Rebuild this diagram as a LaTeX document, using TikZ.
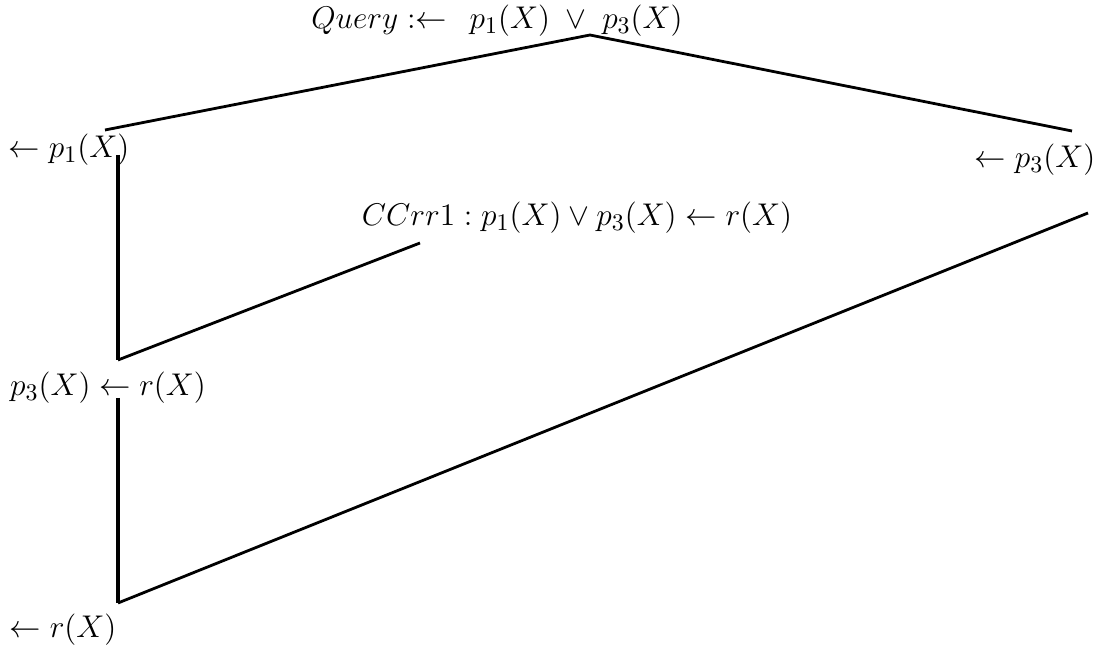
\documentclass[tikz,border=0pt]{standalone}
\usepackage{tikz}

\tikzset{
  lbl/.style={inner sep=0pt, font=\fontsize{15}{18}\selectfont, scale=1.09, transform shape},
  arc/.style={line width=1.4pt},
  stem/.style={line width=2.2pt}
}

\begin{document}
\begin{tikzpicture}[x=0.5pt,y=-0.5pt]
   \useasboundingbox (0,0) rectangle (1098,651);
   % labels
   \node[lbl] (query) at (497,21) {$Query :\leftarrow\;\, p_1(X) \;\vee\; p_3(X)$};
   \node[lbl] (p1) at (69,150) {$\leftarrow p_1(X)$};
   \node[lbl] (p3) at (1035,160) {$\leftarrow p_3(X)$};
   \node[lbl] (cc) at (577,218) {$CCrr1 : p_1(X) \vee p_3(X) \leftarrow r(X)$};
   \node[lbl] (p3r) at (108,388) {$p_3(X) \leftarrow r(X)$};
   \node[lbl] (r) at (63,630) {$\leftarrow r(X)$};
   % branch points
   \coordinate (top) at (590,35);
   \coordinate (topL) at (105,130);
   \coordinate (topR) at (1072,131);
   \coordinate (s1a) at (118,155);
   \coordinate (s1b) at (118,360);
   \coordinate (ccend) at (420,243);
   \coordinate (s2a) at (118,398);
   \coordinate (s2b) at (118,603);
   \coordinate (farR) at (1088,213);
   \draw[arc] (topL) -- (top) -- (topR);
   \draw[stem] (s1a) -- (s1b);
   \draw[arc] (s1b) -- (ccend);
   \draw[stem] (s2a) -- (s2b);
   \draw[arc] (s2b) -- (farR);
\end{tikzpicture}
\end{document}
